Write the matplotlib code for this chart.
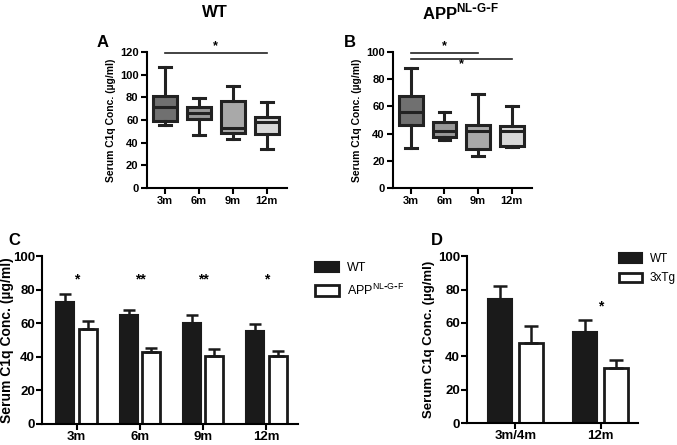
## Serum C1q concentration - WT, APP NL-G-F and 3xTg
import numpy as np
import matplotlib.pyplot as plt

plt.rcParams['font.family'] = ['Liberation Sans', 'DejaVu Sans']
plt.rcParams['font.weight'] = 'bold'

## Data
ages = ['3m', '6m', '9m', '12m']
box_colors = ['#707070', '#989898', '#a9a9a9', '#d8d8d8']

# panel A, WT box plot (min, q1, median, q3, max)
wt_min = [55.3, 46.8, 43.3, 34.5]
wt_q1  = [59.4, 60.6, 48.3, 47.4]
wt_med = [71.7, 65.8, 53.3, 57.9]
wt_q3  = [81.0, 71.7, 76.7, 62.9]
wt_max = [106.8, 79.6, 90.1, 75.5]

# panel B, APP NL-G-F box plot
app_min = [29.3, 35.3, 23.2, 30.0]
app_q1  = [46.1, 37.7, 28.6, 30.9]
app_med = [56.1, 41.9, 41.9, 42.0]
app_q3  = [67.6, 48.3, 46.1, 45.6]
app_max = [88.3, 55.9, 69.0, 60.5]

# panel C, mean and SEM
c_wt_mean  = [72.8, 64.9, 59.9, 55.6]
c_wt_sem   = [4.6, 3.0, 5.0, 3.7]
c_app_mean = [56.3, 43.1, 40.7, 40.3]
c_app_sem  = [5.2, 2.3, 4.1, 3.2]
c_stars = ['*', '**', '**', '*']

# panel D, mean and SEM
d_groups = ['3m/4m', '12m']
d_wt_mean = [74.1, 54.6]
d_wt_sem  = [8.0, 7.2]
d_tg_mean = [48.2, 32.9]
d_tg_sem  = [10.0, 4.9]

ylab = 'Serum C1q Conc. (µg/ml)'
app_lab = r'APP$^{\mathregular{NL\text{-}G\text{-}F}}$'

fig = plt.figure(figsize=(6.77, 4.45), dpi=100)

def style_axes(ax, fs, pad):
  for s in ['top', 'right']:
    ax.spines[s].set_visible(False)
  for s in ['left', 'bottom']:
    ax.spines[s].set_linewidth(1.5)
  ax.tick_params(width=1.5, length=4, labelsize=fs, pad=pad)
  for lab in ax.get_xticklabels() + ax.get_yticklabels():
    lab.set_fontweight('bold')

def box_panel(ax, mins, q1, med, q3, maxs, ymax):
  stats = []
  for i in range(len(ages)):
    stats.append(dict(whislo=mins[i], q1=q1[i], med=med[i],
                      q3=q3[i], whishi=maxs[i], label=ages[i]))
  bp = ax.bxp(stats, positions=np.arange(1, 5), widths=0.7,
              patch_artist=True, showfliers=False,
              boxprops=dict(linewidth=2.2, edgecolor='#222222'),
              medianprops=dict(linewidth=2.2, color='#222222'),
              whiskerprops=dict(linewidth=2.2, color='#222222'),
              capprops=dict(linewidth=2.2, color='#222222'))
  for patch, col in zip(bp['boxes'], box_colors):
    patch.set_facecolor(col)
  ax.set_xlim(0.47, 4.6)
  ax.set_ylim(0, ymax)
  ax.set_ylabel(ylab, fontsize=7.5, fontweight='bold', labelpad=3)
  style_axes(ax, 8, 2)

def legend_at(ax, x, y, fs):
  ax.legend(loc='upper left', bbox_to_anchor=(x, y), frameon=False,
            borderpad=0, borderaxespad=0, handlelength=1.9, handleheight=0.9,
            handletextpad=0.7, labelspacing=0.65,
            prop=dict(weight='normal', size=fs))

## Panel A
axA = fig.add_axes([0.217, 0.5775, 0.207, 0.3056])
box_panel(axA, wt_min, wt_q1, wt_med, wt_q3, wt_max, 120)
axA.set_yticks(np.arange(0, 121, 20))
axA.plot([1, 4], [119.2, 119.2], color='#222222', lw=1.2, clip_on=False)
axA.text(2.5, 119.5, '*', ha='center', va='bottom', fontsize=9)

## Panel B
axB = fig.add_axes([0.5805, 0.5775, 0.2053, 0.3056])
box_panel(axB, app_min, app_q1, app_med, app_q3, app_max, 100)
axB.set_yticks(np.arange(0, 101, 20))
axB.plot([1, 3], [99.5, 99.5], color='#222222', lw=1.2, clip_on=False)
axB.text(2.0, 99.8, '*', ha='center', va='bottom', fontsize=9)
axB.plot([1, 4], [94.6, 94.6], color='#222222', lw=1.2, clip_on=False)
axB.text(2.5, 86.5, '*', ha='center', va='bottom', fontsize=9)

fig.text(0.318, 0.972, 'WT', ha='center', va='center', fontsize=12, fontweight='bold')
fig.text(0.68, 0.972, app_lab, ha='center', va='center', fontsize=12, fontweight='bold')

## Panel C
w = 0.285
off = 0.18
x = np.arange(len(ages))
ekw = dict(ecolor='#1a1a1a', elinewidth=1.8, capsize=4, capthick=1.8)
axC = fig.add_axes([0.062, 0.0472, 0.378, 0.3775])
axC.bar(x - off, c_wt_mean, w, color='#1a1a1a', edgecolor='#1a1a1a', lw=1.5,
        yerr=[np.zeros(4), c_wt_sem], error_kw=ekw, label='WT')
axC.bar(x + off, c_app_mean, w, color='white', edgecolor='#1a1a1a', lw=2,
        yerr=[np.zeros(4), c_app_sem], error_kw=ekw, label=app_lab)
for i in range(len(ages)):
  axC.text(x[i], 86, c_stars[i], ha='center', va='center', fontsize=10)
axC.set_xticks(x)
axC.set_xticklabels(ages)
axC.set_xlim(-0.55, 3.5)
axC.set_ylim(0, 100)
axC.set_yticks(np.arange(0, 101, 20))
axC.set_ylabel(ylab, fontsize=10, fontweight='bold', va='center')
axC.yaxis.set_label_coords(-0.135, 0.5)
style_axes(axC, 9.5, 1)
legend_at(axC, 1.066, 0.965, 9)
fig.text(0.012, 0.46, 'C', ha='left', va='center', fontsize=12, fontweight='bold')

## Panel D
xd = np.arange(len(d_groups))
ekw = dict(ecolor='#1a1a1a', elinewidth=1.8, capsize=5, capthick=1.8)
axD = fig.add_axes([0.6898, 0.0494, 0.2526, 0.375])
axD.bar(xd - off, d_wt_mean, w, color='#1a1a1a', edgecolor='#1a1a1a', lw=1.5,
        yerr=[np.zeros(2), d_wt_sem], error_kw=ekw, label='WT')
axD.bar(xd + off, d_tg_mean, w, color='white', edgecolor='#1a1a1a', lw=2,
        yerr=[np.zeros(2), d_tg_sem], error_kw=ekw, label='3xTg')
axD.text(1.0, 70, '*', ha='center', va='center', fontsize=10)
axD.set_xticks(xd)
axD.set_xticklabels(d_groups)
axD.set_xlim(-0.57, 1.44)
axD.set_ylim(0, 100)
axD.set_yticks(np.arange(0, 101, 20))
axD.set_ylabel(ylab, fontsize=9.5, fontweight='bold', labelpad=2)
style_axes(axD, 9.5, 1)
legend_at(axD, 0.89, 1.02, 8.5)

fig.text(0.152, 0.905, 'A', ha='center', va='center', fontsize=12, fontweight='bold')
fig.text(0.517, 0.905, 'B', ha='center', va='center', fontsize=12, fontweight='bold')
fig.text(0.645, 0.46, 'D', ha='center', va='center', fontsize=12, fontweight='bold')

plt.savefig('out.png', dpi=100)
